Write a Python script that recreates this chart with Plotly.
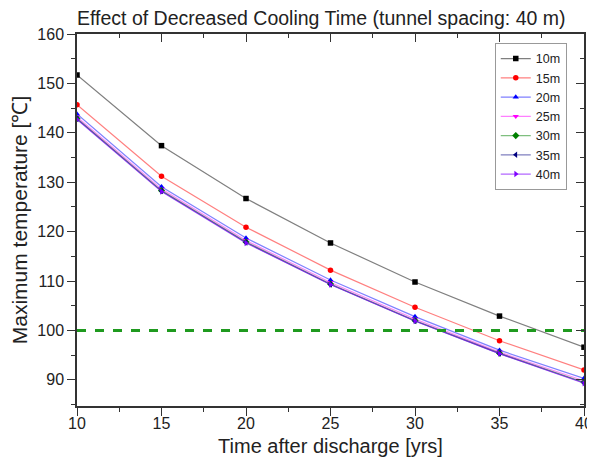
import plotly.graph_objects as go

years = [10, 15, 20, 25, 30, 35, 40]
names = ["10m", "15m", "20m", "25m", "30m", "35m", "40m"]
t10 = [151.7, 137.4, 126.7, 117.7, 109.8, 102.9, 96.6]
t15 = [145.7, 131.2, 120.9, 112.2, 104.7, 97.9, 92.0]
t20 = [143.8, 129.1, 118.7, 110.2, 102.8, 96.0, 90.3]
t25 = [143.2, 128.6, 118.2, 109.7, 102.3, 95.6, 89.8]
t30 = [142.9, 128.3, 117.9, 109.4, 102.0, 95.4, 89.5]
t35 = [142.8, 128.2, 117.8, 109.3, 101.9, 95.3, 89.4]
t40 = [142.7, 128.1, 117.7, 109.3, 101.9, 95.3, 89.3]
series = [t10, t15, t20, t25, t30, t35, t40]
limit_temp = 100

marker_colors = ["#000000", "#ff0000", "#0000ff", "#ff00ff", "#008000", "#000080", "#7f00ff"]
line_colors = ["rgba(0,0,0,0.5)", "rgba(255,0,0,0.5)", "rgba(0,0,255,0.5)", "rgba(255,0,255,0.5)",
               "rgba(0,128,0,0.5)", "rgba(0,0,128,0.5)", "rgba(127,0,255,0.6)"]
symbols = ["square", "circle", "triangle-up", "triangle-down", "diamond", "triangle-left", "triangle-right"]

fig = go.Figure()
for name, vals, mc, lc, sym in zip(names, series, marker_colors, line_colors, symbols):
    fig.add_trace(go.Scatter(x=years, y=vals, name=name, mode="lines+markers",
                             line=dict(color=lc, width=1.2),
                             marker=dict(color=mc, symbol=sym, size=5.5)))

fig.add_trace(go.Scatter(x=[years[0], years[-1]], y=[limit_temp, limit_temp], mode="lines",
                         line=dict(color="#1f9a1f", width=3, dash="dash"), showlegend=False,
                         hoverinfo="skip"))
# invisible trace for mirrored axes
fig.add_trace(go.Scatter(x=[years[0]], y=[limit_temp], xaxis="x2", yaxis="y2", mode="markers",
                         marker=dict(opacity=0), showlegend=False, hoverinfo="skip"))

axis_common = dict(showline=True, linecolor="#333333", linewidth=1.5, showgrid=False, zeroline=False,
                   ticklen=8, tickwidth=1.2, tickcolor="#333333", automargin=False)

# page body has an 8px margin, so the figure is sized to fit the 595x470 window
fig.update_layout(
    width=587, height=462,
    margin=dict(l=69, r=11, t=26, b=64),
    plot_bgcolor="white", paper_bgcolor="white",
    font=dict(family="Arial, Liberation Sans, sans-serif", color="#222222", size=16),
    title=dict(text="Effect of Decreased Cooling Time (tunnel spacing: 40 m)",
               xref="paper", x=0, xanchor="left", yref="container", y=1, yanchor="top",
               pad=dict(t=3, b=0), font=dict(size=19.5)),
    xaxis=dict(range=[10, 40], tickvals=[10, 15, 20, 25, 30, 35, 40], ticks="outside",
               ticklabelstandoff=-6,
               minor=dict(ticks="outside", ticklen=4, dtick=2.5, tickcolor="#333333"),
               title=dict(text="Time after discharge [yrs]", font=dict(size=20), standoff=8),
               **axis_common),
    yaxis=dict(range=[84.7, 160], tickvals=[90, 100, 110, 120, 130, 140, 150, 160], ticks="outside",
               minor=dict(ticks="outside", ticklen=4, tickvals=[85, 95, 105, 115, 125, 135, 145, 155],
                          tickcolor="#333333"),
               title=dict(text="Maximum temperature [℃]", font=dict(size=21), standoff=6),
               **axis_common),
    xaxis2=dict(range=[10, 40], overlaying="x", side="top", anchor="y", tickvals=[10, 15, 20, 25, 30, 35, 40],
                ticks="inside", showticklabels=False,
                minor=dict(ticks="inside", ticklen=4, dtick=2.5, tickcolor="#333333"),
                **axis_common),
    yaxis2=dict(range=[84.7, 160], overlaying="y", side="right", anchor="x",
                tickvals=[90, 100, 110, 120, 130, 140, 150, 160], ticks="inside", showticklabels=False,
                minor=dict(ticks="inside", ticklen=4, tickvals=[85, 95, 105, 115, 125, 135, 145, 155],
                           tickcolor="#333333"),
                **axis_common),
    legend=dict(x=0.824, y=0.976, xanchor="left", yanchor="top", bgcolor="white",
                bordercolor="#999999", borderwidth=1, font=dict(size=12.5), tracegroupgap=0),
    showlegend=True,
)

fig.write_html("out.html")
